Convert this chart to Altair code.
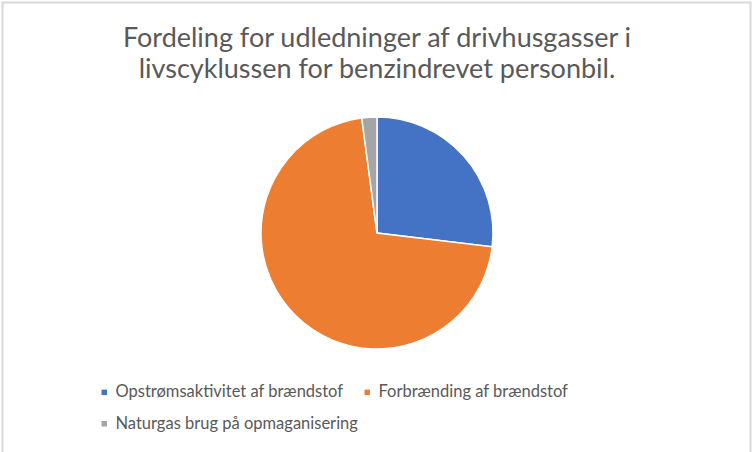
import altair as alt
import pandas as pd

categories = [
    "Opstrømsaktivitet af brændstof",
    "Forbrænding af brændstof",
    "Naturgas brug på opmaganisering",
]
shares = [26.9, 71.0, 2.1]
colors = ["#4472C4", "#ED7D31", "#A5A5A5"]
title_lines = [
    "Fordeling for udledninger af drivhusgasser i",
    "livscyklussen for benzindrevet personbil.",
]

df = pd.DataFrame({"kategori": categories, "andel": shares, "orden": list(range(len(categories)))})

T = 100
W = 750
H = 266

pie = alt.Chart(df).mark_arc(outerRadius=116, stroke="white", strokeWidth=1.5).encode(
    theta=alt.Theta("andel:Q", stack=True),
    order=alt.Order("orden:Q", sort="ascending"),
    color=alt.Color(
        "kategori:N",
        scale=alt.Scale(domain=categories, range=colors),
        sort=categories,
        legend=alt.Legend(
            title=None,
            orient="none",
            legendX=94,
            legendY=384 - T,
            direction="horizontal",
            columns=2,
            columnPadding=1,
            rowPadding=14.5,
            symbolType="square",
            symbolSize=30,
            symbolStrokeWidth=0,
            labelFont="Lato",
            labelFontSize=16.5,
            labelColor="#595959",
            labelOffset=3,
            labelLimit=400,
            padding=0,
        ),
    ),
    tooltip=["kategori", "andel"],
)

border = alt.Chart(df).mark_rect(fill=None, stroke="#D9D9D9", strokeWidth=1.5).encode(
    x=alt.value(0.5),
    x2=alt.value(W - 1.5),
    y=alt.value(2.5 - T),
    y2=alt.value(H + 100),
)

chart = alt.layer(border, pie).properties(
    width=W,
    height=H,
    padding={"left": 2, "top": T, "right": 0, "bottom": 452 - T - H},
    autosize=alt.AutoSizeParams(type="none"),
    background="white",
    title=alt.TitleParams(
        text=title_lines,
        font="Lato",
        fontSize=27,
        fontWeight="normal",
        color="#595959",
        lineHeight=31,
        anchor="middle",
        baseline="alphabetic",
        offset=-103,
    ),
).configure_view(stroke=None)

chart.save("out.html", embed_options={"renderer": "svg", "actions": False})
